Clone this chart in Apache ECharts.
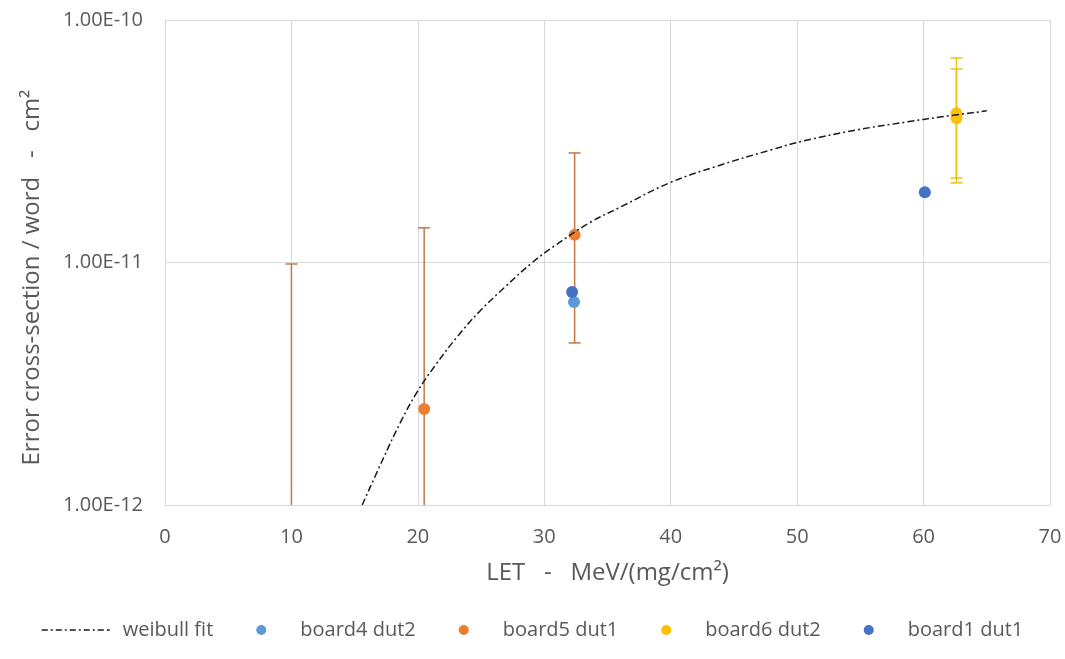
<!DOCTYPE html>
<html lang="en">
<head>
    <meta charset="UTF-8">
    <script src="https://cdn.jsdelivr.net/npm/echarts@6/dist/echarts.min.js"></script>
    <title>Weibull fit</title>
    <style>body{margin:0;background:#fff}</style>
</head>
<body>
<div id="main" style="width: 1065px;height: 659px"></div>
<script type="text/javascript">
    // weibull fit curve
    var fitX = [15.6, 17.2, 18.6, 19.9, 21.4, 23.1, 24.9, 26.9, 29.0, 30.7, 33.6, 36.0, 39.9, 43.7, 47.9, 50.5, 54.7, 58.7, 61.3, 65.0];
    var fitY = [1.0e-12, 1.53e-12, 2.18e-12, 2.9e-12, 3.78e-12, 4.93e-12, 6.3e-12, 7.93e-12, 9.95e-12, 1.16e-11, 1.46e-11, 1.69e-11, 2.13e-11, 2.5e-11, 2.91e-11, 3.17e-11, 3.52e-11, 3.8e-11, 3.98e-11, 4.22e-11];

    var board4X = [32.35];
    var board4Y = [6.87e-12];

    var board5X = [20.5, 32.4];
    var board5Y = [2.49e-12, 1.3e-11];
    // error bars: x, low, high
    var board5ErrX = [10.0, 20.5, 32.4];
    var board5ErrLow = [5e-13, 5e-13, 4.66e-12];
    var board5ErrHigh = [9.86e-12, 1.39e-11, 2.83e-11];

    var board6X = [62.6, 62.6];
    var board6Y = [4.13e-11, 3.94e-11];
    var board6ErrLow = [2.23e-11, 2.13e-11];
    var board6ErrHigh = [6.97e-11, 6.28e-11];

    var board1X = [32.2, 60.1];
    var board1Y = [7.55e-12, 1.95e-11];

    var xTicks = [0, 10, 20, 30, 40, 50, 60, 70];

    function zip(a, b, c) {
        return a.map(function (v, i) { return c ? [v, b[i], c[i]] : [v, b[i]]; });
    }

    function errorBar(color) {
        return function (params, api) {
            var x = api.value(0);
            var lo = api.coord([x, api.value(1)]);
            var hi = api.coord([x, api.value(2)]);
            var w = 6;
            var st = {stroke: color, lineWidth: 1.5};
            return {
                type: 'group',
                children: [
                    {type: 'line', shape: {x1: hi[0], y1: hi[1], x2: lo[0], y2: lo[1]}, style: st},
                    {type: 'line', shape: {x1: hi[0] - w, y1: hi[1], x2: hi[0] + w, y2: hi[1]}, style: st},
                    {type: 'line', shape: {x1: lo[0] - w, y1: lo[1], x2: lo[0] + w, y2: lo[1]}, style: st}
                ]
            };
        };
    }

    var txt = '#595959';
    var font = 'Open Sans';
    // dash-dot legend icon
    var dashDot = 'path://M0,0h6v1.5h-6z M9,0h2v1.5h-2z M14,0h6v1.5h-6z M23,0h2v1.5h-2z M28,0h6v1.5h-6z ' +
        'M37,0h2v1.5h-2z M42,0h6v1.5h-6z M51,0h2v1.5h-2z M56,0h6v1.5h-6z M65,0h3v1.5h-3z';

    var myChart = echarts.init(document.getElementById("main"));

    myChart.setOption({
        animation: false,
        textStyle: {fontFamily: font},
        grid: {left: 165, right: 15, top: 20, bottom: 154},
        legend: {
            top: 615,
            left: 'center',
            itemGap: 43,
            itemWidth: 68,
            itemHeight: 10,
            textStyle: {color: txt, fontSize: 20, fontFamily: font},
            data: [
                {name: 'weibull fit', icon: dashDot, textStyle: {padding: [0, 0, 0, 8]}},
                {name: 'board4 dut2', icon: 'circle'},
                {name: 'board5 dut1', icon: 'circle'},
                {name: 'board6 dut2', icon: 'circle'},
                {name: 'board1 dut1', icon: 'circle'}
            ]
        },
        xAxis: {
            type: 'value',
            min: 0,
            max: 70,
            interval: 10,
            name: 'LET   -   MeV/(mg/cm²)',
            nameLocation: 'middle',
            nameGap: 56,
            nameTextStyle: {color: txt, fontSize: 24},
            axisLine: {lineStyle: {color: '#d9d9d9'}},
            axisTick: {show: false},
            axisLabel: {color: txt, fontSize: 20, margin: 22,
                formatter: function (v) { return xTicks.indexOf(v) >= 0 ? String(v) : ''; }},
            splitLine: {lineStyle: {color: '#d9d9d9'}}
        },
        yAxis: {
            type: 'log',
            logBase: 10,
            min: 1e-12,
            max: 1e-10,
            name: 'Error cross-section / word   -   cm²',
            nameLocation: 'middle',
            nameGap: 121,
            nameTextStyle: {color: txt, fontSize: 24, padding: [0, 30, 0, 0]},
            axisLine: {show: true, lineStyle: {color: '#d9d9d9'}},
            axisTick: {show: false},
            minorTick: {show: false},
            axisLabel: {color: txt, fontSize: 20, margin: 22,
                formatter: function (v) { return v.toExponential(2).toUpperCase(); }},
            splitLine: {lineStyle: {color: '#d9d9d9'}}
        },
        series: [
            {
                name: 'weibull fit',
                type: 'line',
                data: zip(fitX, fitY),
                symbol: 'none',
                smooth: 0.4,
                lineStyle: {color: '#1a1a1a', width: 1.5, type: [7, 3, 2, 3]},
                itemStyle: {color: '#1a1a1a'},
                z: 5
            },
            {
                name: 'board5 dut1',
                type: 'custom',
                clip: true,
                renderItem: errorBar('#c0784a'),
                data: zip(board5ErrX, board5ErrLow, board5ErrHigh),
                itemStyle: {color: '#ED7D31'},
                z: 2
            },
            {
                name: 'board6 dut2',
                type: 'custom',
                clip: true,
                renderItem: errorBar('#e9c21a'),
                data: zip(board6X, board6ErrLow, board6ErrHigh),
                itemStyle: {color: '#FFC000'},
                z: 2
            },
            {
                name: 'board4 dut2',
                type: 'scatter',
                symbolSize: 12,
                data: zip(board4X, board4Y),
                itemStyle: {color: '#5B9BD5', opacity: 1},
                z: 4
            },
            {
                name: 'board5 dut1',
                type: 'scatter',
                symbolSize: 12,
                data: zip(board5X, board5Y),
                itemStyle: {color: '#ED7D31', opacity: 1},
                z: 4
            },
            {
                name: 'board6 dut2',
                type: 'scatter',
                symbolSize: 12,
                data: zip(board6X, board6Y),
                itemStyle: {color: '#FFC000', opacity: 1},
                z: 4
            },
            {
                name: 'board1 dut1',
                type: 'scatter',
                symbolSize: 12,
                data: zip(board1X, board1Y),
                itemStyle: {color: '#4472C4', opacity: 1},
                z: 4
            }
        ]
    });
</script>
</body>
</html>
